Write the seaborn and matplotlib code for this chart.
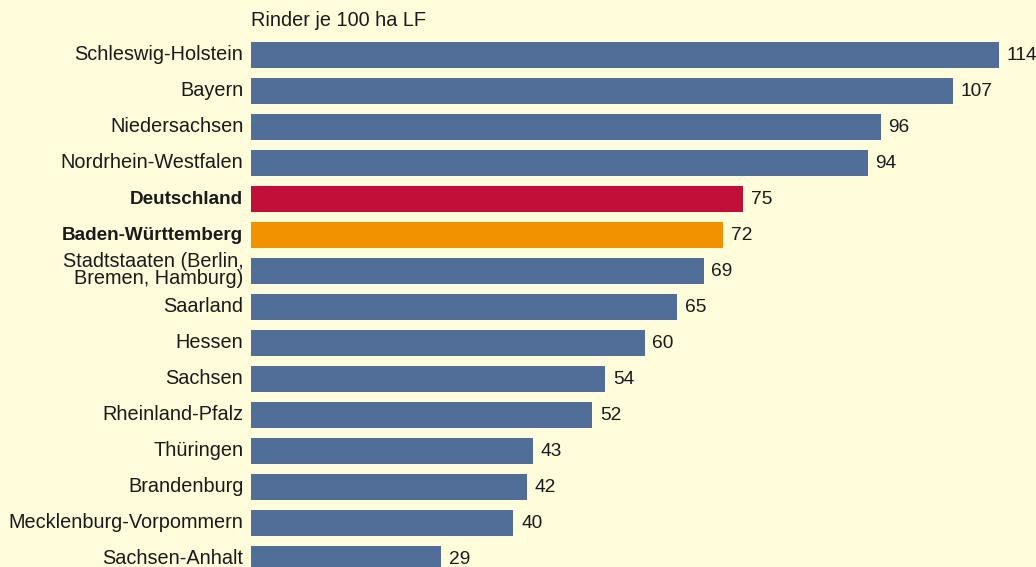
import matplotlib
matplotlib.use("Agg")
import matplotlib.pyplot as plt
import matplotlib.transforms as mtrans
import seaborn as sns
import pandas as pd

laender = ["Schleswig-Holstein", "Bayern", "Niedersachsen", "Nordrhein-Westfalen",
           "Deutschland", "Baden-Württemberg", "Stadtstaaten (Berlin,\nBremen, Hamburg)",
           "Saarland", "Hessen", "Sachsen", "Rheinland-Pfalz", "Thüringen",
           "Brandenburg", "Mecklenburg-Vorpommern", "Sachsen-Anhalt"]
rinder = [114, 107, 96, 94, 75, 72, 69, 65, 60, 54, 52, 43, 42, 40, 29]
hervorgehoben = {"Deutschland": "#c0103a", "Baden-Württemberg": "#f39200"}

BG = "#fffcdc"
BLAU = "#516e99"
FS = 14.3

df = pd.DataFrame({"land": laender, "rinder": rinder})
palette = {l: hervorgehoben.get(l, BLAU) for l in laender}

sns.set_style("white")
plt.rcParams["font.family"] = ["Liberation Sans", "DejaVu Sans"]

fig = plt.figure(figsize=(10.36, 5.67), dpi=100, facecolor=BG)
W, H = 1036, 567
ax = fig.add_axes([251 / W, 0, (W - 251) / W, (567 - 30) / H])
ax.set_facecolor(BG)

sns.barplot(data=df, x="rinder", y="land", hue="land", palette=palette,
            legend=False, width=0.72, saturation=1, linewidth=0, ax=ax)

px = 748 / 114
ax.set_xlim(0, (W - 251) / px)
ax.set_ylim((567 - 55) / 36, (30 - 55) / 36)

for c in ax.containers:
    ax.bar_label(c, padding=5.5, fontsize=13.8, color="#1a1a1a")

ax.set_xlabel("")
ax.set_ylabel("")
ax.set_xticks([])
ax.tick_params(axis="y", length=0, pad=5.5, labelsize=FS, labelcolor="#1a1a1a")
hoch = mtrans.ScaledTranslation(0, 2 / 100, fig.dpi_scale_trans)
for lbl in ax.get_yticklabels():
    lbl.set_linespacing(0.85)
    lbl.set_transform(lbl.get_transform() + hoch)
    if lbl.get_text() in hervorgehoben:
        lbl.set_fontweight("bold")
        lbl.set_fontsize(13.6)
for s in ax.spines.values():
    s.set_visible(False)

fig.text(251 / W, 1 - 20 / H, "Rinder je 100 ha LF", ha="left", va="center",
         fontsize=FS, color="#1a1a1a")

fig.savefig("out.png", dpi=100, facecolor=BG)
